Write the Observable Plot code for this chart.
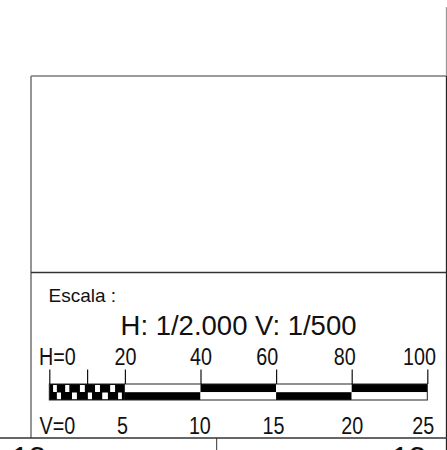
<!DOCTYPE html>
<html><head><meta charset="utf-8">
<script src="https://cdn.jsdelivr.net/npm/d3@7"></script>
<script src="https://cdn.jsdelivr.net/npm/@observablehq/plot@0.6"></script>
<style>html,body{margin:0;padding:0;background:#fff;overflow:hidden}</style>
</head><body><div id="chart"></div>
<script>
// ---- data ----
const titleText = "Escala :";
const scaleText = "H: 1/2.000 V: 1/500";
const sheetNumbers = ["13", "13"];
const hTicks = [0, 10, 20, 40, 60, 80, 100];
const hLabels = ["H=0", "20", "40", "60", "80", "100"];
const hLabelAt = [2, 20, 40, 57.5, 78, 97.8];
const vLabels = ["V=0", "5", "10", "15", "20", "25"];
const vLabelAt = [2, 19.2, 39.7, 59.2, 80, 98.8];
const segStart = [20, 40, 60, 80];
const segEnd = [40, 60, 80, 100];
const topFill = ["white", "black", "white", "black"];
const bottomFill = ["black", "white", "black", "white"];
const checkerSpan = [0, 20];
const checkTopStart = [1.0, 4.2, 8.1, 12.1, 16.1];
const checkTopEnd = [2.0, 5.3, 9.4, 13.4, 17.4];
const checkBotStart = [2.0, 6.0, 10.2, 14.0, 18.2];
const checkBotEnd = [3.1, 7.3, 11.3, 15.5, 19.2];

const sans = "'Liberation Sans', Arial, sans-serif";
const idx = (a) => a.map((_, i) => i);

const plot = Plot.plot({
  width: 447,
  height: 450,
  margin: 0,
  x: {domain: [0, 100], range: [49.3, 427.3], axis: null},
  y: {type: "identity", axis: null},
  color: {type: "identity"},
  style: {background: "white"},
  marks: [
    // checkered base
    Plot.rect([checkerSpan], {x1: d => d[0], x2: d => d[1], y1: 384, y2: 400, fill: "black"}),
    Plot.rect(idx(checkTopStart), {x1: i => checkTopStart[i], x2: i => checkTopEnd[i], y1: 385, y2: 392, fill: "white"}),
    Plot.rect(idx(checkBotStart), {x1: i => checkBotStart[i], x2: i => checkBotEnd[i], y1: 392.5, y2: 399.3, fill: "white"}),
    // long segments
    Plot.rect(idx(segStart), {x1: i => segStart[i], x2: i => segEnd[i], y1: 384, y2: 392.2, fill: i => topFill[i]}),
    Plot.rect(idx(segStart), {x1: i => segStart[i], x2: i => segEnd[i], y1: 392.2, y2: 400, fill: i => bottomFill[i]}),
    // outline
    Plot.rect([[hTicks[0], hTicks[hTicks.length - 1]]], {x1: d => d[0], x2: d => d[1], y1: 384, y2: 400, fill: "none", stroke: "#222", strokeWidth: 1}),
    // ticks
    Plot.ruleX(hTicks, {x: d => d, y1: 369.5, y2: 384, stroke: "#111", strokeWidth: 1.2}),
    // labels
    Plot.text(hLabels, {x: (d, i) => hLabelAt[i], y: 364, text: d => d, lineAnchor: "bottom", textAnchor: "middle", fontSize: 23.5, fontFamily: sans, fill: "#111", className: "cond"}),
    Plot.text(vLabels, {x: (d, i) => vLabelAt[i], y: 433.5, text: d => d, lineAnchor: "bottom", textAnchor: "middle", fontSize: 23.5, fontFamily: sans, fill: "#111", className: "cond"}),
    Plot.text([titleText], {frameAnchor: "top-left", dx: 48, dy: 301, text: d => d, lineAnchor: "bottom", textAnchor: "start", fontSize: 19, fontFamily: sans, fill: "#111"}),
    Plot.text([scaleText], {frameAnchor: "top-left", dx: 238, dy: 334.5, text: d => d, lineAnchor: "bottom", textAnchor: "middle", fontSize: 27.5, fontFamily: sans, fill: "#111"}),
    Plot.text([sheetNumbers[0]], {frameAnchor: "top-left", dx: 11, dy: 446.5, text: d => d, lineAnchor: "top", textAnchor: "start", fontSize: 31, fontFamily: sans, fill: "#111"}),
    Plot.text([sheetNumbers[1]], {frameAnchor: "top-left", dx: 391, dy: 446.5, text: d => d, lineAnchor: "top", textAnchor: "start", fontSize: 31, fontFamily: sans, fill: "#111"})
  ]
});

// condensed look of the scale-bar labels
d3.select(plot).selectAll(".cond text").each(function () {
  const t = this.getAttribute("transform") || "";
  this.setAttribute("transform", t + " scale(0.84,1)");
});

// drawing-sheet frame lines (layout decoration)
const g = d3.select(plot).append("g").attr("fill", "none");
const lines = [
  [31, 76, 446.5, 76, "#7a7a7a", 1.6],
  [31, 76, 31, 438, "#7a7a7a", 1.6],
  [446.5, 7, 446.5, 76, "#9a9a9a", 1.3],
  [446.5, 76, 446.5, 450, "#222", 1.3],
  [31, 272.5, 446.5, 272.5, "#333", 1.3],
  [0, 438, 446.5, 438, "#333", 1.5],
  [216.7, 438, 216.7, 450, "#333", 1]
];
for (const [x1, y1, x2, y2, c, w] of lines) {
  g.append("line").attr("x1", x1).attr("y1", y1).attr("x2", x2).attr("y2", y2).attr("stroke", c).attr("stroke-width", w);
}
document.getElementById("chart").appendChild(plot);
</script>
</body></html>
